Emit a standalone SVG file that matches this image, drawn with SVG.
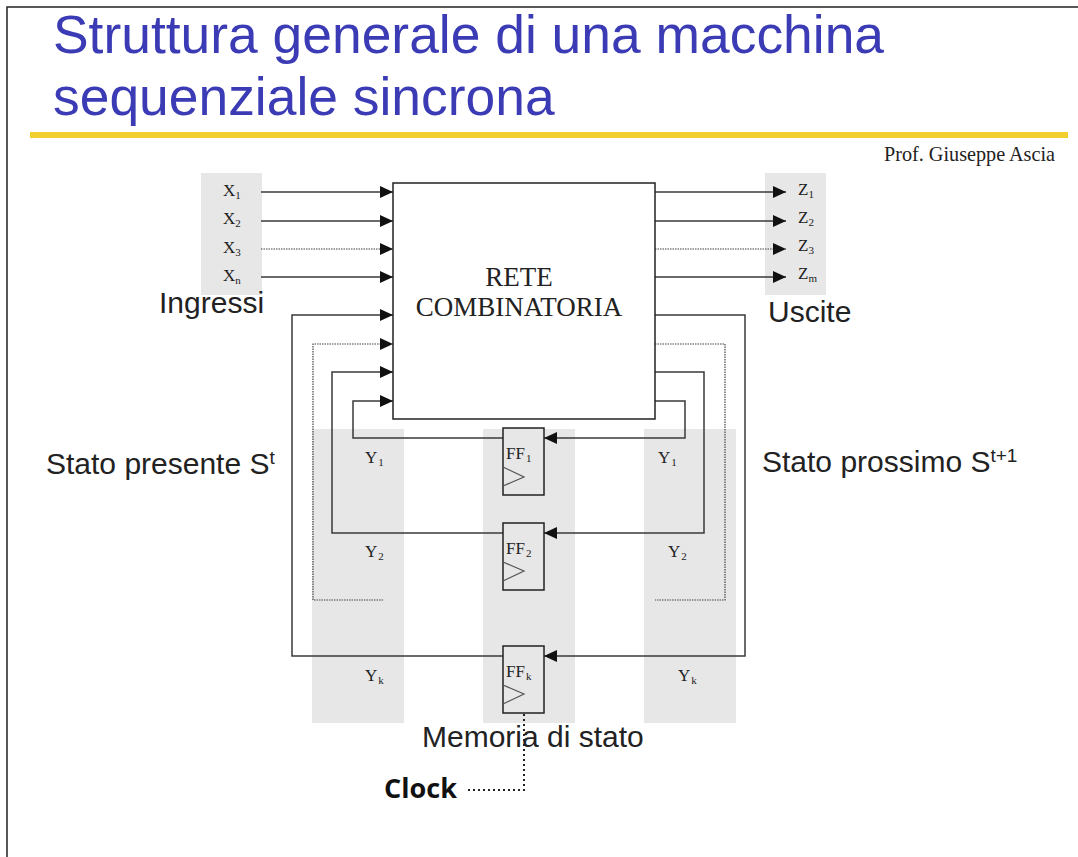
<svg xmlns="http://www.w3.org/2000/svg" width="1078" height="857" viewBox="0 0 1078 857">
<style>
.bg{fill:#e7e7e7}
.w{fill:none;stroke:#3a3a3a;stroke-width:1.5}
.d{fill:none;stroke:#444;stroke-width:1.2;stroke-dasharray:1.5 1}
.s{font-family:"Liberation Serif",serif;fill:#222}
.a{font-family:"Liberation Sans",sans-serif;fill:#222;font-size:30px}
.t{font-family:"Liberation Sans",sans-serif;fill:#3b3bb5;font-size:53.4px}
.v{font-size:17px}
.sub{font-size:11px}
.ff{fill:#e7e7e7;stroke:#222;stroke-width:1.5}
.tri{fill:none;stroke:#555;stroke-width:1.2}
</style>
<defs>
<marker id="ah" markerUnits="userSpaceOnUse" markerWidth="14" markerHeight="12" refX="13" refY="6" orient="auto"><path d="M0 0L13 6L0 12Z" fill="#111"/></marker>
</defs>
<rect width="1078" height="857" fill="#fff"/>
<path d="M7 857V7H1078" fill="none" stroke="#222" stroke-width="1.5"/>
<g id="title">
<text x="53" y="53" class="t">Struttura generale di una macchina</text>
<text x="53" y="115" class="t">sequenziale sincrona</text>
<rect x="30" y="132" width="1038" height="6" fill="#f0cf2e"/>
<text x="1055" y="161" text-anchor="end" class="s" font-size="20.2">Prof. Giuseppe Ascia</text>
</g>
<g id="backgrounds">
<rect class="bg" x="201" y="173" width="61" height="122"/>
<rect class="bg" x="765" y="173" width="61" height="122"/>
<rect class="bg" x="312" y="429" width="92" height="294"/>
<rect class="bg" x="483" y="429" width="92" height="294"/>
<rect class="bg" x="644" y="429" width="92" height="294"/>
</g>
<g id="connectors">
<path class="w" marker-end="url(#ah)" d="M261 192H393"/>
<path class="w" marker-end="url(#ah)" d="M261 221H393"/>
<path class="d" marker-end="url(#ah)" d="M261 249H393"/>
<path class="w" marker-end="url(#ah)" d="M261 277H393"/>
<path class="w" marker-end="url(#ah)" d="M655 192H786"/>
<path class="w" marker-end="url(#ah)" d="M655 221H786"/>
<path class="d" marker-end="url(#ah)" d="M655 249H786"/>
<path class="w" marker-end="url(#ah)" d="M655 277H786"/>
<path class="w" marker-end="url(#ah)" d="M503 656H292V315H393"/>
<path class="d" marker-end="url(#ah)" d="M383 600H313V344H393"/>
<path class="w" marker-end="url(#ah)" d="M503 533H332V372H393"/>
<path class="w" marker-end="url(#ah)" d="M503 438H353V401H393"/>
<path class="w" marker-end="url(#ah)" d="M655 315H745V656H544"/>
<path class="d" d="M655 344H725V600H655"/>
<path class="w" marker-end="url(#ah)" d="M655 372H704V533H544"/>
<path class="w" marker-end="url(#ah)" d="M655 401H685V438H544"/>
<path d="M524 714V790H467" fill="none" stroke="#222" stroke-width="2" stroke-dasharray="2 3"/>
</g>
<g id="rete">
<rect x="393" y="183" width="262" height="236" fill="#fff" stroke="#222" stroke-width="1.5"/>
<text x="519" y="286" text-anchor="middle" class="s" font-size="27">RETE</text>
<text x="519" y="316" text-anchor="middle" class="s" font-size="27">COMBINATORIA</text>
</g>
<g id="ff1"><rect class="ff" x="503" y="428" width="41" height="67"/><path class="tri" d="M503 467L524 477L503 486"/><text x="506" y="459" class="s v">FF<tspan class="sub" dx="1" dy="3">1</tspan></text></g>
<g id="ff2"><rect class="ff" x="503" y="523" width="41" height="67"/><path class="tri" d="M503 562L524 571L503 581"/><text x="506" y="554" class="s v">FF<tspan class="sub" dx="1" dy="3">2</tspan></text></g>
<g id="ffk"><rect class="ff" x="503" y="646" width="41" height="67"/><path class="tri" d="M503 685L524 694L503 704"/><text x="506" y="677" class="s v">FF<tspan class="sub" dx="1" dy="3">k</tspan></text></g>
<g id="labels">
<text x="223" y="196" class="s v">X<tspan class="sub" dy="3">1</tspan></text>
<text x="223" y="224" class="s v">X<tspan class="sub" dy="3">2</tspan></text>
<text x="223" y="253" class="s v">X<tspan class="sub" dy="3">3</tspan></text>
<text x="223" y="281" class="s v">X<tspan class="sub" dy="3">n</tspan></text>
<text x="798" y="195" class="s v">Z<tspan class="sub" dy="3">1</tspan></text>
<text x="798" y="223" class="s v">Z<tspan class="sub" dy="3">2</tspan></text>
<text x="798" y="251" class="s v">Z<tspan class="sub" dy="3">3</tspan></text>
<text x="798" y="279" class="s v">Z<tspan class="sub" dy="3">m</tspan></text>
<text x="365" y="463" class="s v">Y<tspan class="sub" dx="1" dy="3">1</tspan></text>
<text x="365" y="557" class="s v">Y<tspan class="sub" dx="1" dy="3">2</tspan></text>
<text x="365" y="681" class="s v">Y<tspan class="sub" dx="1" dy="3">k</tspan></text>
<text x="658" y="463" class="s v">Y<tspan class="sub" dx="1" dy="3">1</tspan></text>
<text x="668" y="557" class="s v">Y<tspan class="sub" dx="1" dy="3">2</tspan></text>
<text x="678" y="681" class="s v">Y<tspan class="sub" dx="1" dy="3">k</tspan></text>
<text x="159" y="313" class="a">Ingressi</text>
<text x="768" y="322" class="a">Uscite</text>
<text x="46" y="474" class="a">Stato presente S<tspan font-size="19" dy="-10">t</tspan></text>
<text x="762" y="472" class="a">Stato prossimo S<tspan font-size="19" dy="-10">t+1</tspan></text>
<text x="422" y="747" class="a">Memoria di stato</text>
<text x="384" y="798" font-family="Open Sans,Noto Sans,sans-serif" font-weight="700" font-size="26" fill="#111" textLength="73" lengthAdjust="spacingAndGlyphs">Clock</text>
</g>
</svg>
